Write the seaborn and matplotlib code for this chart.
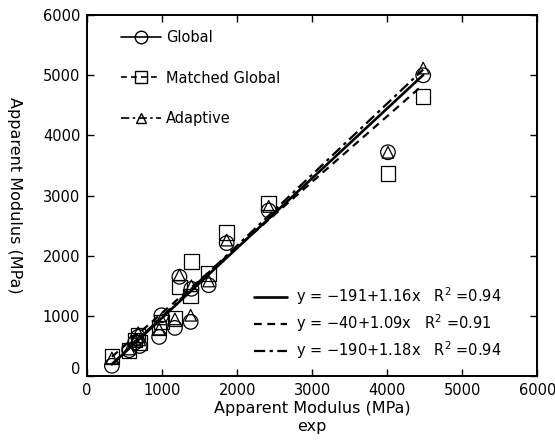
import numpy as np
import pandas as pd
import matplotlib
matplotlib.use("Agg")
import matplotlib.pyplot as plt
import matplotlib.transforms as mtransforms
from matplotlib.lines import Line2D
import seaborn as sns

# ---- data ----
x_exp = [330, 560, 640, 680, 700, 960, 990, 1170, 1230, 1380, 1390, 1620, 1860, 2420, 4010, 4480]
y_global = [170, 430, 560, 650, 500, 650, 1010, 800, 1650, 900, 1450, 1510, 2210, 2750, 3720, 5000]
y_matched = [320, 420, 600, 680, 560, 800, 900, 960, 1480, 1330, 1900, 1700, 2390, 2880, 3370, 4650]
y_adaptive = [300, 450, 600, 720, 600, 780, 950, 950, 1680, 1010, 1500, 1580, 2260, 2820, 3720, 5120]

series_names = ["Global", "Matched Global", "Adaptive"]
fit_intercepts = [-191, -40, -190]
fit_slopes = [1.16, 1.09, 1.18]
fit_r2 = [0.94, 0.91, 0.94]
fit_x_range = [330, 4480]

tick_values = [0, 1000, 2000, 3000, 4000, 5000, 6000]
axis_label = "Apparent Modulus (MPa)"

# ---- style ----
sns.set_theme(style="ticks")
plt.rcParams["font.family"] = ["DejaVu Sans"]
plt.rcParams["text.color"] = "black"
plt.rcParams["axes.labelcolor"] = "black"
plt.rcParams["xtick.color"] = "black"
plt.rcParams["ytick.color"] = "black"

fig = plt.figure(figsize=(5.55, 4.45), dpi=100)
ax = fig.add_axes([0.157, 0.155, 0.811, 0.811])

markers = ["o", "s", "^"]
msizes = [110, 110, 70]
linestyles = ["-", (0, (3.5, 2.5)), (0, (5, 2, 1.5, 2))]
lwidths = [1.9, 1.6, 1.6]
ys = [y_global, y_matched, y_adaptive]

for name, y, m, s in zip(series_names, ys, markers, msizes):
    df = pd.DataFrame({"x": x_exp, "y": y})
    sns.scatterplot(data=df, x="x", y="y", ax=ax, marker=m, s=s,
                    facecolor="none", edgecolor="black", linewidth=0.9, zorder=3)

xf = np.array(fit_x_range, dtype=float)
for a, b, ls, lw in zip(fit_intercepts, fit_slopes, linestyles, lwidths):
    sns.lineplot(x=xf, y=a + b * xf, ax=ax, color="black", linestyle=ls, linewidth=lw, zorder=2)

ax.set_xlim(0, 6000)
ax.set_ylim(0, 6000)
ax.set_xticks(tick_values)
ax.set_yticks(tick_values)
ax.tick_params(direction="in", length=5, width=1, labelsize=10.5, top=True, right=True, pad=5,
               colors="black", labelcolor="black")
for sp in ax.spines.values():
    sp.set_linewidth(1.4)
    sp.set_color("black")

ax.set_xlabel(axis_label + "\nexp", fontsize=11.5, linespacing=1.3, labelpad=2, color="black")
ax.set_ylabel(axis_label, fontsize=11.5, rotation=270, labelpad=26, color="black")

# legend of series
h1 = [Line2D([0], [0], color="black", linestyle=ls, linewidth=1.2, marker=m,
             markerfacecolor="none", markeredgecolor="black", markersize=9 if m != "^" else 7)
      for ls, m in zip(linestyles, markers)]
leg1 = ax.legend(h1, series_names, loc="upper left", bbox_to_anchor=(0.045, 0.995),
                 frameon=False, fontsize=10.5, handlelength=2.8, labelspacing=1.75,
                 numpoints=1, handletextpad=0.3)
ax.add_artist(leg1)

# legend of fits
h2 = [Line2D([0], [0], color="black", linestyle=ls, linewidth=lw)
      for ls, lw in zip(linestyles, lwidths)]
labels2 = [f"y = \u2212{abs(a)}+{b:.2f}x   R$^2$ =" + f"{r:.2f}"
           for a, b, r in zip(fit_intercepts, fit_slopes, fit_r2)]
ax.legend(h2, labels2, loc="lower right", bbox_to_anchor=(0.95, 0.005),
          frameon=False, fontsize=10.5, handlelength=2.3, labelspacing=0.38,
          handletextpad=0.6)

# the "0" y label sits a little above its tick in the reference
fig.canvas.draw()
lab = ax.get_yticklabels()[0]
lab.set_transform(lab.get_transform() + mtransforms.ScaledTranslation(0, 8 / 100, fig.dpi_scale_trans))

fig.savefig("out.png", dpi=100)
